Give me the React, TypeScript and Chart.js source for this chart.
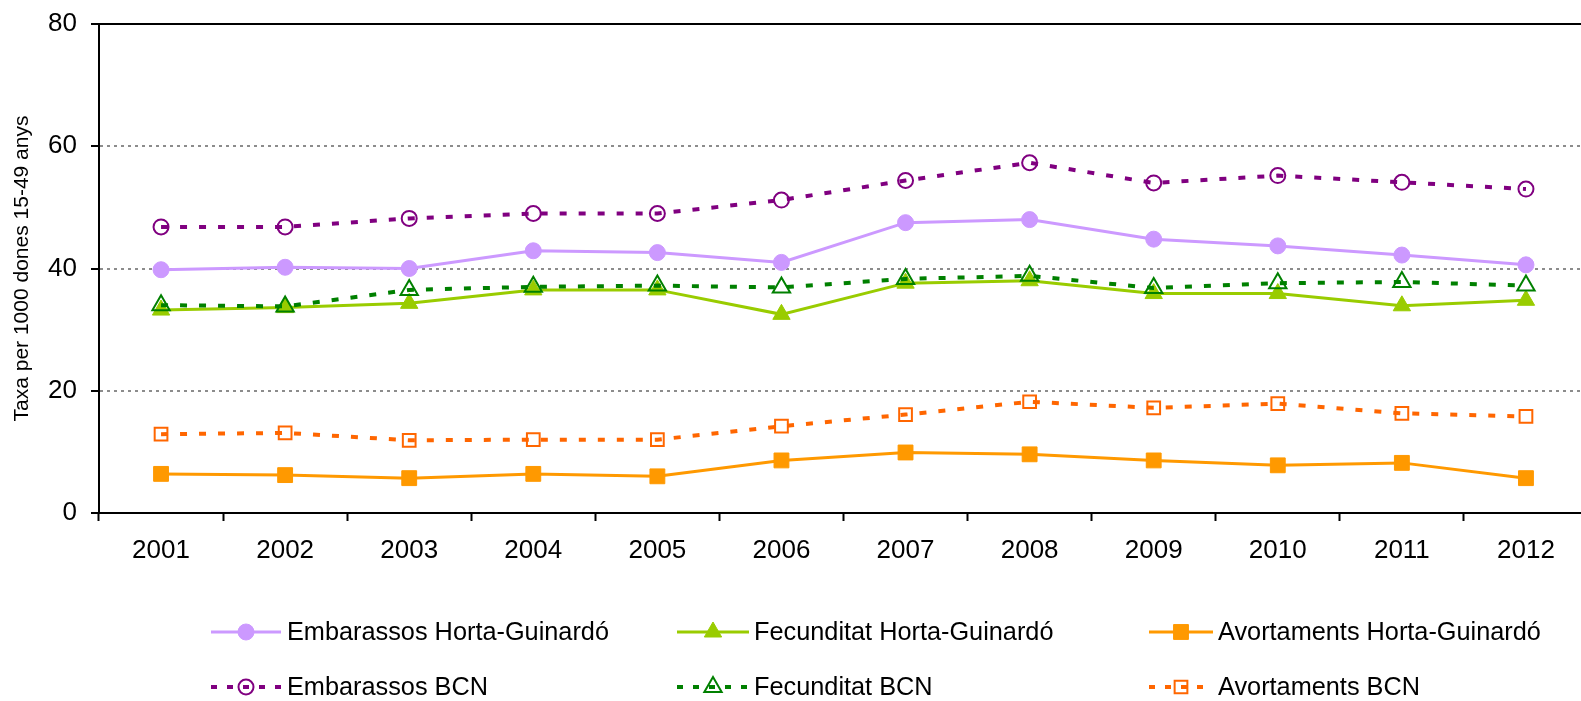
import React, { useEffect, useRef } from "react";
import { Chart, registerables } from "chart.js";

Chart.register(...registerables);

const years = ["2001", "2002", "2003", "2004", "2005", "2006", "2007", "2008", "2009", "2010", "2011", "2012"];

const embarassosHG = [39.8, 40.2, 40.0, 42.9, 42.6, 41.0, 47.5, 48.0, 44.8, 43.7, 42.2, 40.6];
const fecunditatHG = [33.2, 33.6, 34.3, 36.5, 36.5, 32.5, 37.6, 38.0, 35.9, 35.9, 33.9, 34.8];
const avortamentsHG = [6.4, 6.2, 5.7, 6.4, 6.0, 8.6, 9.9, 9.6, 8.6, 7.8, 8.2, 5.7];
const embarassosBCN = [46.8, 46.8, 48.2, 49.0, 49.0, 51.2, 54.4, 57.3, 54.0, 55.2, 54.1, 53.0];
const fecunditatBCN = [34.0, 33.8, 36.5, 37.0, 37.2, 36.9, 38.3, 38.8, 36.8, 37.6, 37.8, 37.2];
const avortamentsBCN = [12.9, 13.1, 11.9, 12.0, 12.0, 14.2, 16.1, 18.2, 17.2, 17.9, 16.3, 15.8];

const seriesLabels = [
  "Embarassos Horta-Guinardó",
  "Fecunditat Horta-Guinardó",
  "Avortaments Horta-Guinardó",
  "Embarassos BCN",
  "Fecunditat BCN",
  "Avortaments BCN",
];

const yTicks = [0, 20, 40, 60, 80];
const yTitle = "Taxa per 1000 dones 15-49 anys";

const FONT = "'Liberation Sans', Arial, sans-serif";

function drawMarker(ctx: CanvasRenderingContext2D, style: string, x: number, y: number, r: number, fill: string, stroke: string, lw: number) {
  ctx.save();
  ctx.setLineDash([]);
  ctx.beginPath();
  if (style === "circle") {
    ctx.arc(x, y, r, 0, Math.PI * 2);
  } else if (style === "triangle") {
    for (let i = 0; i < 3; i++) {
      const a = -Math.PI / 2 + (i * 2 * Math.PI) / 3;
      const px = x + Math.cos(a) * r;
      const py = y + Math.sin(a) * r;
      if (i === 0) ctx.moveTo(px, py);
      else ctx.lineTo(px, py);
    }
    ctx.closePath();
  } else {
    const s = Math.SQRT1_2 * r;
    ctx.rect(x - s, y - s, 2 * s, 2 * s);
  }
  if (fill !== "transparent") {
    ctx.fillStyle = fill;
    ctx.fill();
  }
  ctx.lineWidth = lw;
  ctx.strokeStyle = stroke;
  ctx.stroke();
  ctx.restore();
}

// legend layout: [line start, line end, text start] per column
const legendCols = [
  [211, 281, 287],
  [677, 749, 754],
  [1149, 1213, 1218],
];
const legendRows = [632, 687];

const customLegend = {
  id: "customLegend",
  afterDraw(chart: any) {
    const ctx: CanvasRenderingContext2D = chart.ctx;
    const area = chart.chartArea;
    ctx.save();
    ctx.strokeStyle = "#000";
    ctx.lineWidth = 2;
    ctx.beginPath();
    ctx.moveTo(area.left, area.top);
    ctx.lineTo(area.right, area.top);
    ctx.stroke();
    ctx.restore();

    chart.data.datasets.forEach((ds: any, i: number) => {
      const col = legendCols[i % 3];
      const y = legendRows[Math.floor(i / 3)];
      const xm = (col[0] + col[1]) / 2;
      ctx.save();
      ctx.strokeStyle = ds.borderColor;
      ctx.lineWidth = ds.borderWidth;
      ctx.setLineDash(ds.borderDash ? [6, 10] : []);
      ctx.beginPath();
      ctx.moveTo(col[0], y);
      ctx.lineTo(col[1], y);
      ctx.stroke();
      ctx.restore();
      drawMarker(ctx, ds.pointStyle, xm, y, ds.pointRadius, ds.pointBackgroundColor, ds.pointBorderColor, ds.pointBorderWidth);
      ctx.save();
      ctx.fillStyle = "#000";
      ctx.font = `25.3px ${FONT}`;
      ctx.textBaseline = "middle";
      ctx.textAlign = "left";
      ctx.fillText(ds.label, col[2], y + 1);
      ctx.restore();
    });
  },
};

function solid(label: string, data: number[], color: string, style: string, r: number) {
  return {
    label,
    data,
    borderColor: color,
    backgroundColor: color,
    borderWidth: 3,
    pointStyle: style,
    pointRadius: r,
    pointBackgroundColor: color,
    pointBorderColor: color,
    pointBorderWidth: 1,
    tension: 0,
    order: 2,
  };
}

function dashed(label: string, data: number[], color: string, style: string, r: number) {
  return {
    label,
    data,
    borderColor: color,
    backgroundColor: color,
    borderWidth: 4,
    borderDash: [7, 12],
    pointStyle: style,
    pointRadius: r,
    pointBackgroundColor: "transparent",
    pointBorderColor: color,
    pointBorderWidth: 2,
    tension: 0,
    order: 1,
  };
}

export default function App() {
  const ref = useRef<HTMLCanvasElement>(null);

  useEffect(() => {
    const chart = new Chart(ref.current as HTMLCanvasElement, {
      type: "line",
      data: {
        labels: years,
        datasets: [
          solid(seriesLabels[0], embarassosHG, "#CC99FF", "circle", 8),
          solid(seriesLabels[1], fecunditatHG, "#99CC00", "triangle", 10),
          solid(seriesLabels[2], avortamentsHG, "#FF9900", "rect", 10.5),
          dashed(seriesLabels[3], embarassosBCN, "#800080", "circle", 7.5),
          dashed(seriesLabels[4], fecunditatBCN, "#008000", "triangle", 10),
          dashed(seriesLabels[5], avortamentsBCN, "#FF6600", "rect", 9),
        ] as any,
      },
      options: {
        responsive: false,
        animation: false,
        layout: { padding: { top: 24, right: 0, bottom: 128, left: 0 } },
        plugins: {
          legend: { display: false },
          tooltip: { enabled: false },
        },
        scales: {
          x: {
            type: "category",
            offset: true,
            grid: {
              display: true,
              drawOnChartArea: false,
              drawTicks: true,
              tickLength: 8,
              offset: true,
              tickColor: "#000",
              tickWidth: 2,
            },
            border: { display: true, color: "#000", width: 2 },
            ticks: {
              color: "#000",
              font: { family: FONT, size: 26 },
              padding: 14,
              maxRotation: 0,
              autoSkip: false,
            },
            afterFit: (s: any) => {
              s.height = 60;
              s.paddingLeft = 0;
              s.paddingRight = 0;
            },
          },
          y: {
            min: 0,
            max: 80,
            afterBuildTicks: (s: any) => {
              s.ticks = yTicks.map((v) => ({ value: v }));
            },
            grid: {
              color: (c: any) =>
                c.tick && (c.tick.value === 0 || c.tick.value === 80) ? "rgba(0,0,0,0)" : "#8c8c8c",
              lineWidth: 2,
              tickLength: 8,
              tickColor: "#000",
              tickWidth: 2,
            },
            border: { display: true, color: "#000", width: 2, dash: [3, 4] },
            ticks: {
              color: "#000",
              font: { family: FONT, size: 26 },
              padding: 14,
            },
            title: {
              display: true,
              text: yTitle,
              color: "#000",
              font: { family: FONT, size: 21 },
              padding: { top: 10, bottom: 0 },
            },
            afterFit: (s: any) => {
              s.width = 99;
              s.paddingTop = 0;
              s.paddingBottom = 0;
            },
          },
        },
      } as any,
      plugins: [customLegend],
    });
    return () => chart.destroy();
  }, []);

  return (
    <div
      style={{
        position: "fixed",
        left: 0,
        top: 0,
        width: 1581,
        height: 701,
        overflow: "hidden",
        background: "#fff",
      }}
    >
      <canvas ref={ref} width={1600} height={701} style={{ display: "block", width: 1600, height: 701 }} />
    </div>
  );
}
